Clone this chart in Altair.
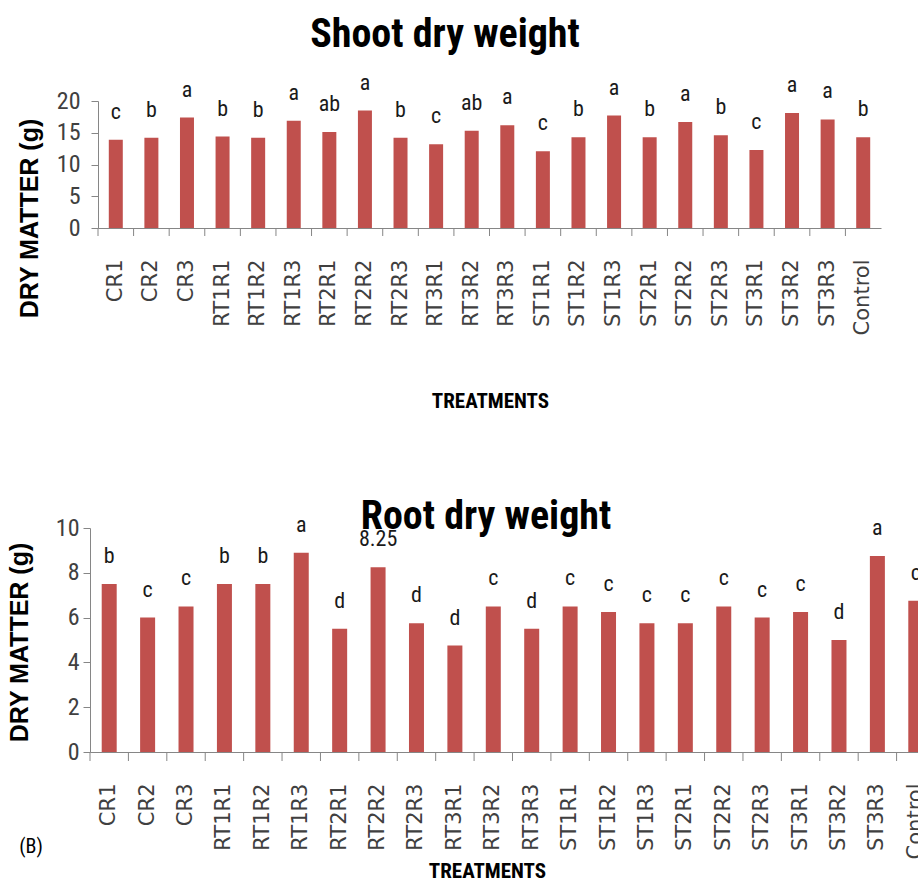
import altair as alt
import pandas as pd

# Treatments on the x axis (same order in both panels)
treatments = ["CR1", "CR2", "CR3", "RT1R1", "RT1R2", "RT1R3", "RT2R1", "RT2R2",
              "RT2R3", "RT3R1", "RT3R2", "RT3R3", "ST1R1", "ST1R2", "ST1R3",
              "ST2R1", "ST2R2", "ST2R3", "ST3R1", "ST3R2", "ST3R3", "Control"]

# Shoot dry weight (g) and significance groups
shoot_dry = [13.9, 14.2, 17.4, 14.4, 14.2, 16.9, 15.1, 18.5, 14.2, 13.2, 15.3,
             16.2, 12.1, 14.3, 17.7, 14.3, 16.7, 14.6, 12.3, 18.1, 17.1, 14.3]
shoot_groups = ["c", "b", "a", "b", "b", "a", "ab", "a", "b", "c", "ab",
                "a", "c", "b", "a", "b", "a", "b", "c", "a", "a", "b"]

# Root dry weight (g) and significance groups
root_dry = [7.5, 6.0, 6.5, 7.5, 7.5, 8.9, 5.5, 8.25, 5.75, 4.75, 6.5,
            5.5, 6.5, 6.25, 5.75, 5.75, 6.5, 6.0, 6.25, 5.0, 8.75, 6.75]
root_groups = ["b", "c", "c", "b", "b", "a", "d", "8.25", "d", "d", "c",
               "d", "c", "c", "c", "c", "c", "c", "c", "d", "a", "c"]

shoot_ticks = [0, 5, 10, 15, 20]
root_ticks = [0, 2, 4, 6, 8, 10]

BAR = "#C0504D"
GREY = "#868686"
NARROW = "Liberation Sans Narrow, Roboto Condensed, Liberation Sans, sans-serif"
BOLD_SANS = "Liberation Sans, Arial, sans-serif"
TICK_FONT = "DejaVu Sans, Verdana, sans-serif"


def one_row(**cols):
    return pd.DataFrame({k: [v] for k, v in cols.items()})


def panel(values, groups, title, y_max, y_ticks, width, height, bar_w, inset,
          title_xy, ytitle_xy, xtitle_xy, y_label_pad, tick_len, marker):
    """One bar panel; `inset` moves the plotted band range (and y axis) right."""
    df = pd.DataFrame({"treatment": treatments, "weight": values, "group": groups})

    x_axis = alt.Axis(
        title="TREATMENTS", labelAngle=270, labelAlign="right", labelBaseline="middle",
        labelFont=TICK_FONT, labelFontSize=21, labelColor="#404040", labelPadding=31,
        ticks=False, tickSize=0, domainColor=GREY, labelOverlap=False,
        titleFont=NARROW, titleFontSize=21, titleFontWeight="bold", titleColor="black",
        titleX=xtitle_xy[0], titleY=xtitle_xy[1], titleAlign="center",
        titleBaseline="alphabetic",
    )
    x_scale = alt.Scale(paddingInner=0, paddingOuter=0, range=[inset, width])
    x = alt.X("treatment:N", sort=treatments, scale=x_scale, axis=x_axis)

    y = alt.Y(
        "weight:Q",
        scale=alt.Scale(domain=[0, y_max], nice=False),
        axis=alt.Axis(
            values=y_ticks, grid=False, title="DRY MATTER (g)", offset=-inset,
            titleFont=BOLD_SANS, titleFontSize=25, titleFontWeight="bold",
            titleColor="black", titleAngle=270, titleAlign="center",
            titleBaseline="alphabetic", titleX=ytitle_xy[0], titleY=ytitle_xy[1],
            labelFont=NARROW, labelFontSize=24, labelColor="#404040",
            labelPadding=y_label_pad, tickSize=7, tickColor=GREY, domainColor=GREY,
        ),
    )

    base = alt.Chart(df)
    bars = base.mark_bar(color=BAR, width=bar_w).encode(x=x, y=y)
    letters = base.mark_text(
        dy=-21, baseline="alphabetic", align="center", font=NARROW,
        fontSize=22, color="#1a1a1a",
    ).encode(x=x, y=y, text="group:N")
    # tick marks sit on the band edges, between the bars
    ticks = base.mark_rule(color=GREY).encode(
        x=alt.X("treatment:N", sort=treatments, scale=x_scale, axis=x_axis,
                bandPosition=0),
        y=alt.value(height), y2=alt.value(height + tick_len),
    )
    heading = alt.Chart(one_row(t=title)).mark_text(
        font=NARROW, fontSize=40, fontWeight="bold", color="black",
        align="center", baseline="alphabetic",
    ).encode(text="t:N", x=alt.value(title_xy[0]), y=alt.value(title_xy[1]))
    # white guide line fixing the panel's outer bounds in the layout
    frame = alt.Chart(one_row(m=0)).mark_rule(color="white", strokeWidth=1).encode(
        x=alt.value(marker[0]), y=alt.value(marker[1]), y2=alt.value(marker[2]),
    )
    layers = [frame, bars, ticks, letters, heading]
    return layers, width, height


top_layers, tw, th = panel(
    shoot_dry, shoot_groups, "Shoot dry weight", 20, shoot_ticks,
    width=791, height=127, bar_w=14, inset=8,
    title_xy=(355, -54), ytitle_xy=(-61, 117), xtitle_xy=(400, 179),
    y_label_pad=11, tick_len=8, marker=(-88.5, -100, 330),
)
top = alt.layer(*top_layers).properties(width=tw, height=th)

bot_layers, bw, bh = panel(
    root_dry, root_groups, "Root dry weight", 10, root_ticks,
    width=845, height=224, bar_w=15, inset=0,
    title_xy=(396, 1), ytitle_xy=(-63, 114), xtitle_xy=(397, 125),
    y_label_pad=4, tick_len=9, marker=(-88.5, -40, 140),
)
panel_tag = alt.Chart(one_row(t="(B)")).mark_text(
    font=NARROW, fontSize=20, color="black", align="center", baseline="middle",
).encode(text="t:N", x=alt.value(-59), y=alt.value(319))
bottom = alt.layer(*bot_layers, panel_tag).properties(width=bw, height=bh)

chart = (
    alt.concat(top, bottom, columns=1, spacing=55)
    .properties(padding={"left": 1, "top": 0, "right": -17.5, "bottom": -3},
                background="white")
    .configure_view(stroke=None)
)

chart.save("out.html", embed_options={"renderer": "svg", "actions": False})
